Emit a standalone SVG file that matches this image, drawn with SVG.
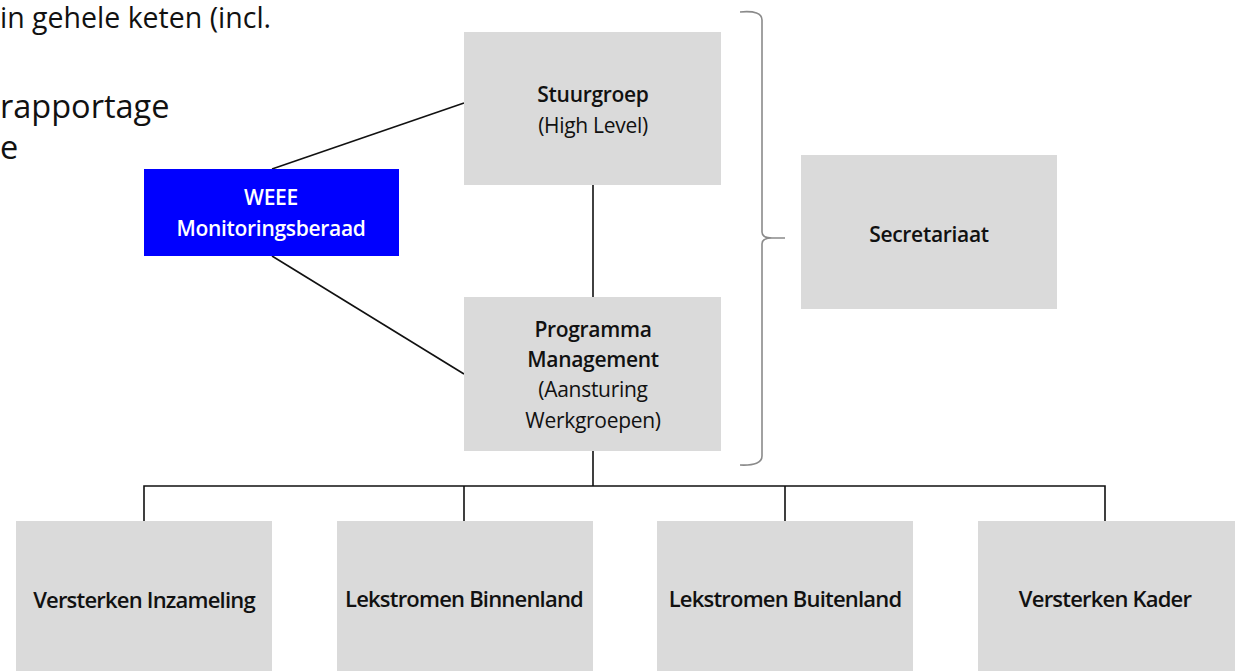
<svg xmlns="http://www.w3.org/2000/svg" width="1235" height="671" viewBox="0 0 1235 671">
<style>
.box{fill:#dadada}
.t{font-family:"Open Sans","Noto Sans",sans-serif;font-size:21px;fill:#111;text-anchor:middle;letter-spacing:-0.3px}
.b{font-weight:600}
.w{fill:#fff}
.bl{font-family:"Open Sans","Noto Sans",sans-serif;font-size:22px;font-weight:600;fill:#111;text-anchor:middle;letter-spacing:-0.8px}
.bg{font-family:"Open Sans","Noto Sans",sans-serif;fill:#111}
.ln{stroke:#111;stroke-width:1.6;fill:none}
</style>
<rect width="1235" height="671" fill="#fff"/>
<g id="bgtext">
<text class="bg" x="0" y="28" font-size="28.5">in gehele keten (incl.</text>
<text class="bg" x="0" y="118" font-size="32.5">rapportage</text>
<text class="bg" x="0" y="159" font-size="32.5">e</text>
</g>
<g id="connectors">
<line class="ln" x1="272" y1="169" x2="464" y2="103"/>
<line class="ln" x1="272" y1="256" x2="464" y2="374"/>
<line class="ln" x1="593" y1="185" x2="593" y2="297"/>
<path class="ln" d="M593 451V486M144 521V486H1105V521M464 486V521M785 486V521"/>
<path d="M740 12Q762 10 762 20V232Q762 238 772 238H785H772Q762 238 762 244V456Q762 466 740 465" fill="none" stroke="#8a8a8a" stroke-width="1.6"/>
</g>
<g id="stuurgroep">
<rect class="box" x="464" y="32" width="257" height="153"/>
<text class="t b" x="593" y="102">Stuurgroep</text>
<text class="t" x="593" y="133">(High Level)</text>
</g>
<g id="weee">
<rect x="144" y="169" width="255" height="87" fill="#0000ff"/>
<text class="t b w" x="271" y="205">WEEE</text>
<text class="t b w" x="271" y="236">Monitoringsberaad</text>
</g>
<g id="programma">
<rect class="box" x="464" y="297" width="257" height="154"/>
<text class="t b" x="593" y="337">Programma</text>
<text class="t b" x="593" y="367">Management</text>
<text class="t" x="593" y="397">(Aansturing</text>
<text class="t" x="593" y="428">Werkgroepen)</text>
</g>
<g id="secretariaat">
<rect class="box" x="801" y="155" width="256" height="154"/>
<text class="t b" x="929" y="242">Secretariaat</text>
</g>
<g id="inzameling">
<rect class="box" x="16" y="521" width="256" height="150"/>
<text class="bl" x="144" y="608">Versterken Inzameling</text>
</g>
<g id="binnenland">
<rect class="box" x="337" y="521" width="256" height="150"/>
<text class="bl" x="464" y="607">Lekstromen Binnenland</text>
</g>
<g id="buitenland">
<rect class="box" x="657" y="521" width="256" height="150"/>
<text class="bl" x="785" y="607">Lekstromen Buitenland</text>
</g>
<g id="kader">
<rect class="box" x="978" y="521" width="257" height="150"/>
<text class="bl" x="1105" y="607">Versterken Kader</text>
</g>
</svg>
